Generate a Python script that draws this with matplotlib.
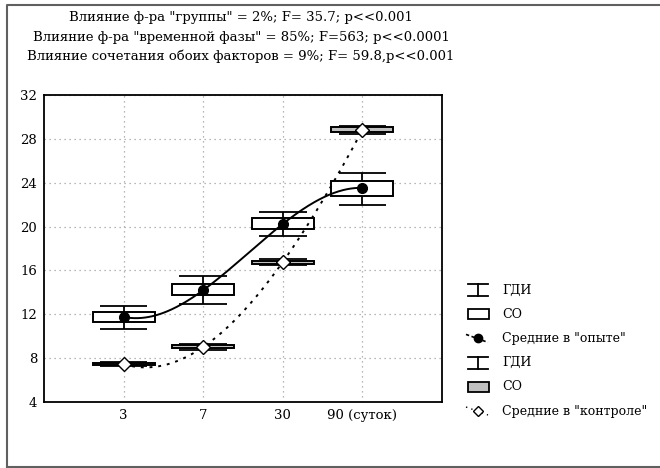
import numpy as np
import matplotlib
matplotlib.use("Agg")
import matplotlib.pyplot as plt

# x categories (time points)
days = ["3", "7", "30", "90 (суток)"]

# experimental group ("опыт"): mean, box (SO) and whiskers (ГДИ)
exp_mean = [11.76, 14.2, 20.24, 23.53]
exp_box_lo = [11.3, 13.76, 19.78, 22.8]
exp_box_hi = [12.2, 14.77, 20.79, 24.16]
exp_ci_lo = [10.66, 12.94, 19.15, 21.97]
exp_ci_hi = [12.76, 15.5, 21.34, 24.9]

# control group ("контроль")
ctl_mean = [7.45, 9.02, 16.77, 28.8]
ctl_box_lo = [7.35, 8.9, 16.62, 28.6]
ctl_box_hi = [7.58, 9.18, 16.9, 29.05]
ctl_ci_lo = [7.28, 8.76, 16.5, 28.42]
ctl_ci_hi = [7.65, 9.3, 17.0, 29.2]

title_lines = [
    'Влияние ф-ра "группы" = 2%; F= 35.7; p<<0.001',
    'Влияние ф-ра "временной фазы" = 85%; F=563; p<<0.0001',
    'Влияние сочетания обоих факторов = 9%; F= 59.8,p<<0.001',
]
legend_labels = ["ГДИ", "СО", 'Средние в "опыте"', "ГДИ", "СО", 'Средние в "контроле"']

plt.rcParams["font.family"] = ["DejaVu Serif", "Liberation Serif"]
W, H = 660, 468
fig = plt.figure(figsize=(W / 100, H / 100), dpi=100)
ax = fig.add_axes([44 / W, 1 - 402 / H, 398 / W, 307 / H])

x = np.arange(1, len(days) + 1)
box_w = 0.78
cap_w = 0.6


def draw_group(mean, blo, bhi, clo, chi, fill, mfc, marker, ls):
    blo, bhi, clo, chi = map(np.array, (blo, bhi, clo, chi))
    ax.vlines(x, clo, blo, color="black", lw=1.3, zorder=3)
    ax.vlines(x, bhi, chi, color="black", lw=1.3, zorder=3)
    ax.hlines(clo, x - cap_w / 2, x + cap_w / 2, color="black", lw=1.3, zorder=3)
    ax.hlines(chi, x - cap_w / 2, x + cap_w / 2, color="black", lw=1.3, zorder=3)
    ax.bar(x, bhi - blo, bottom=blo, width=box_w, color=fill,
           edgecolor="black", linewidth=1.4, zorder=4)
    # smooth curve through the means
    coef = np.polyfit(x, mean, 3)
    xs = np.linspace(x[0], x[-1], 200)
    ax.plot(xs, np.polyval(coef, xs), color="black", lw=1.4, ls=ls, zorder=5)
    ax.plot(x, mean, ls="none", marker=marker, ms=7, mfc=mfc, mec="black",
            mew=1.0, zorder=6)


draw_group(exp_mean, exp_box_lo, exp_box_hi, exp_ci_lo, exp_ci_hi,
           "white", "black", "o", "-")
draw_group(ctl_mean, ctl_box_lo, ctl_box_hi, ctl_ci_lo, ctl_ci_hi,
           "#c0c0c0", "white", "D", (0, (1.5, 3)))

ax.set_xlim(0, 5)
ax.set_ylim(4, 32)
ax.set_xticks(x)
ax.set_xticklabels(days)
ax.set_yticks(np.arange(4, 33, 4))
ax.tick_params(length=0, labelsize=9.5, pad=5)
ax.grid(True, color="#a0a0a0", ls=(0, (1, 3)), lw=0.9)
for s in ax.spines.values():
    s.set_linewidth(1.3)

# overlay in pixel coordinates for title, legend and frame
ov = fig.add_axes([0, 0, 1, 1], facecolor="none")
ov.set_xlim(0, W)
ov.set_ylim(H, 0)
ov.axis("off")
ov.plot([7, 7, W + 5], [H - 1.5, 5, 5], color="#606060", lw=1.5)
ov.plot([7, W + 5], [H - 1.5, H - 1.5], color="#606060", lw=1.5)

for i, t in enumerate(title_lines):
    ov.text(241, 18 + i * 19, t, ha="center", va="center", fontsize=9.5)

# legend
lx = 478
rows = 290 + 24.2 * np.arange(len(legend_labels))
for i, (lab, y) in enumerate(zip(legend_labels, rows)):
    ov.text(502, y, lab, ha="left", va="center", fontsize=9)
    kind = i % 3
    if kind == 0:
        ov.plot([lx - 10, lx + 10], [y - 6, y - 6], color="black", lw=1.3)
        ov.plot([lx - 10, lx + 10], [y + 6, y + 6], color="black", lw=1.3)
        ov.plot([lx, lx], [y - 6, y + 6], color="black", lw=1.3)
    elif kind == 1:
        fc = "white" if i < 3 else "#c0c0c0"
        ov.add_patch(plt.Rectangle((lx - 10, y - 5), 21, 10, fc=fc, ec="black", lw=1.3))
    else:
        if i < 3:
            ov.plot([lx - 12, lx + 10], [y - 4, y + 4], color="black", lw=1.2, ls=(0, (2, 1.5)))
            ov.plot(lx, y, marker="o", ms=6, mfc="black", mec="black")
        else:
            ov.plot([lx - 12, lx + 10], [y - 4, y + 4], color="black", lw=1.0, ls=(0, (1, 3)))
            ov.plot(lx, y, marker="D", ms=5, mfc="white", mec="black")

fig.savefig("out.png", dpi=100)
